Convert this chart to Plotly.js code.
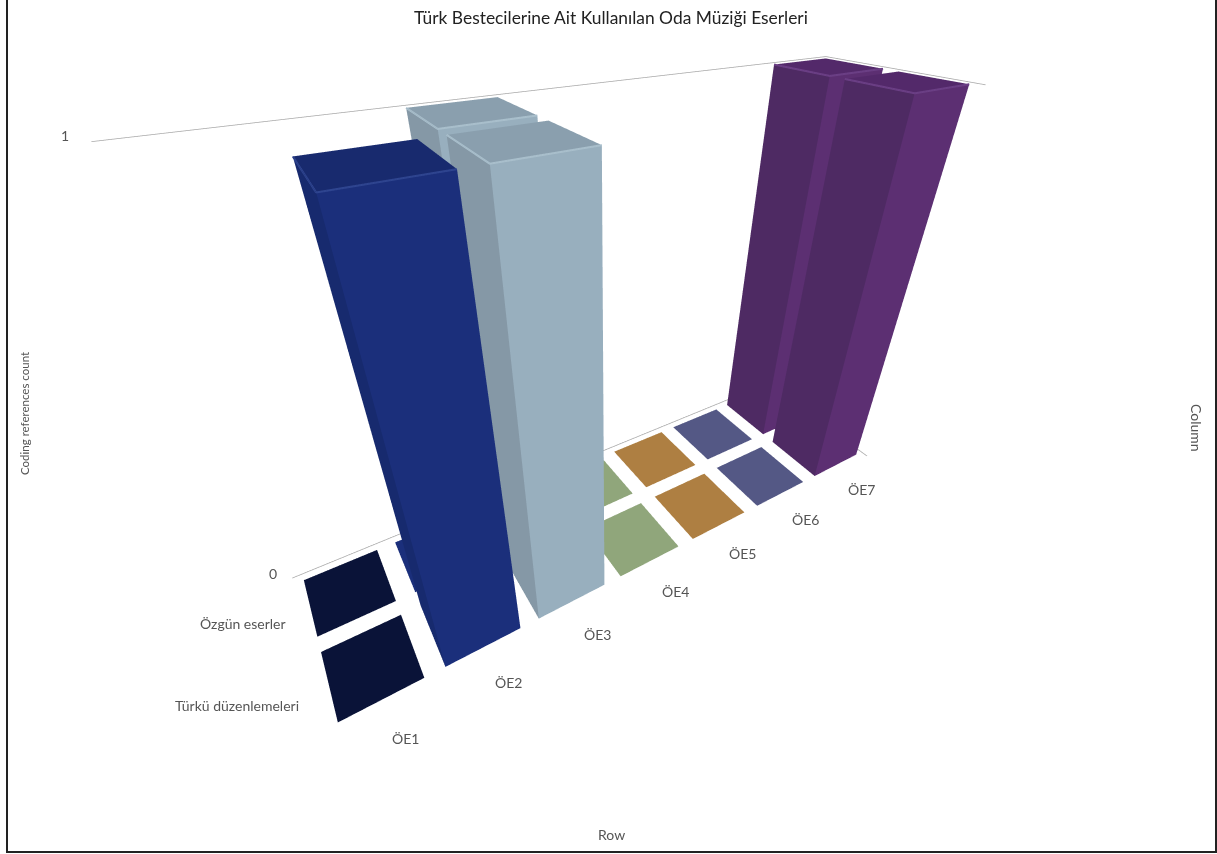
<!DOCTYPE html>
<html><head><meta charset="utf-8"><script src="https://cdn.plot.ly/plotly-3.0.1.min.js"></script></head>
<body style="margin:0;background:#fff;overflow:hidden"><div id="g" style="width:1217px;height:854px;position:absolute;left:0;top:0"></div>
<script>
const W = 1217, H = 854;
const rowLabels = ['ÖE1', 'ÖE2', 'ÖE3', 'ÖE4', 'ÖE5', 'ÖE6', 'ÖE7'];
const columnLabels = ['Türkü düzenlemeleri', 'Özgün eserler'];
const countTicks = ['0', '1'];
const turkuValues = [0, 1, 1, 0, 0, 0, 1];
const ozgunValues = [0, 0, 1, 0, 0, 0, 1];
const frontColours = ['#0a1338', '#1b2f7b', '#98afbe', '#90a67b', '#ae7f42', '#545885', '#5c2f72'];
const sideColours = ['#0a1338', '#172a6e', '#8598a6', '#90a67b', '#ae7f42', '#545885', '#4e2a63'];
const topColours = ['#0a1338', '#182a6e', '#8a9fae', '#90a67b', '#ae7f42', '#545885', '#53296a'];
const edgeColours = ['#0a1338', '#2f4590', '#a9bfcc', '#90a67b', '#ae7f42', '#545885', '#6b3f85'];

// Label anchors, view and cell inset (layout, not data)
const rowLabelPx = [[405, 738], [508, 682], [597, 634], [675, 591], [743, 553], [805, 519], [861, 489]];
const columnLabelPx = [[237, 705], [243, 623]];
const tickLabelPx = [[273, 573], [65, 136]];
const xRange = [-0.1, 7.1], yRange = [-0.1, 2.1], zRange = [-0.02, 1.02];
const insetX = 0.104, insetY = 0.0979;
const focalPx = 621.8476, centreY = 368;
const boxAspect = {x: 3.5, y: 1.0423, z: 2.3604};
const camera = {eye: {x: -1.3393, y: -2.1950, z: 1.6853}, center: {x: -0.0034, y: 0.0103, z: -0.1016}, up: {x: 0.0018, y: -0.0030, z: 1}};

const traces = [];
function addCell(i, j, v) {
  const a = i + insetX, b = i + 1 - insetX, c = j + insetY, d = j + 1 - insetY;
  const tileColour = v ? topColours[i] : frontColours[i];
  const I = [4, 4], J = [5, 6], K = [6, 7], F = [tileColour, tileColour];
  if (v) {
    I.push(0, 0, 0, 0); J.push(1, 5, 3, 7); K.push(5, 4, 7, 4);
    F.push(frontColours[i], frontColours[i], sideColours[i], sideColours[i]);
  }
  traces.push({type: 'mesh3d', x: [a, b, b, a, a, b, b, a], y: [c, c, d, d, c, c, d, d], z: [0, 0, 0, 0, v, v, v, v],
    i: I, j: J, k: K, facecolor: F, flatshading: true, hoverinfo: 'skip', showscale: false,
    lighting: {ambient: 1, diffuse: 0, specular: 0, roughness: 1, fresnel: 0}});
  if (v) traces.push({type: 'scatter3d', mode: 'lines', x: [a, a, b], y: [d, c, c], z: [v, v, v],
    line: {color: edgeColours[i], width: 4}, hoverinfo: 'skip', showlegend: false});
}
rowLabels.forEach((_, i) => { addCell(i, 1, ozgunValues[i]); addCell(i, 0, turkuValues[i]); });
countTicks.forEach(t => traces.push({type: 'scatter3d', mode: 'lines', x: [0, rowLabels.length, rowLabels.length],
  y: [columnLabels.length, columnLabels.length, 0], z: [+t, +t, +t], line: {color: '#a8a8a8', width: 1.5}, hoverinfo: 'skip', showlegend: false}));

const labelFont = {family: 'Lato, sans-serif', size: 14, color: '#555'};
const ann = (text, p, extra) => Object.assign({text, xref: 'paper', yref: 'paper', x: p[0] / W, y: 1 - p[1] / H,
  xanchor: 'center', yanchor: 'middle', showarrow: false, font: labelFont}, extra || {});
const annotations = [
  ...rowLabels.map((t, i) => ann(t, rowLabelPx[i])),
  ...columnLabels.map((t, i) => ann(t, columnLabelPx[i])),
  ...countTicks.map((t, i) => ann(t, tickLabelPx[i])),
  ann('Coding references count', [24, 414], {textangle: -90, font: {family: 'Lato, sans-serif', size: 11.5, color: '#555'}}),
  ann('Column', [1197, 428], {textangle: 90}),
  ann('Row', [611, 834])
];

Plotly.newPlot('g', traces, {
  width: W, height: H, margin: {l: 0, r: 0, t: 0, b: 0}, showlegend: false, paper_bgcolor: '#fff',
  title: {text: 'Türk Bestecilerine Ait Kullanılan Oda Müziği Eserleri', x: 611 / W, xanchor: 'center', y: 1 - 18 / H, yanchor: 'middle',
    font: {family: 'Lato, sans-serif', size: 17.4, color: '#222'}},
  annotations,
  shapes: [{type: 'rect', xref: 'paper', yref: 'paper', x0: 7 / W, x1: 1216 / W, y0: 1 - 852 / H, y1: 1.01, line: {color: '#222', width: 2}}],
  scene: {domain: {x: [0, 1], y: [1 - 2 * centreY / H, 1]}, aspectmode: 'manual', aspectratio: boxAspect, camera,
    xaxis: {range: xRange, visible: false}, yaxis: {range: yRange, visible: false}, zaxis: {range: zRange, visible: false}}
}, {displayModeBar: false}).then(gd => {
  const glplot = gd._fullLayout.scene._scene.glplot;
  glplot.fovy = 2 * Math.atan(centreY / focalPx);
  glplot.redraw();
});
</script></body></html>
